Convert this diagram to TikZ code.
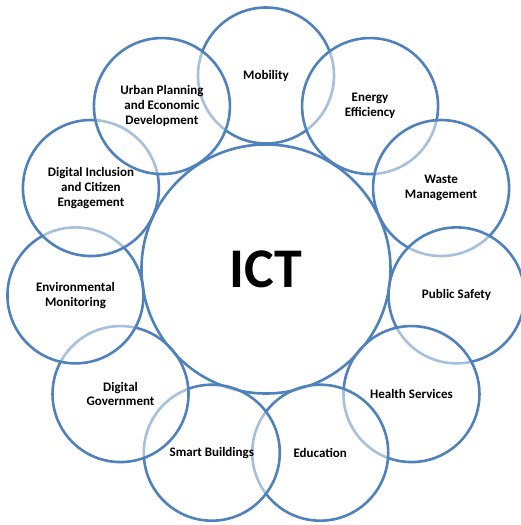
\documentclass[tikz,border=0pt]{standalone}
\usepackage{fontspec}
\setmainfont{Carlito}
\usepackage{tikz}
\definecolor{ringblue}{RGB}{79,129,189}

\begin{document}
\begin{tikzpicture}[x=1pt,y=1pt]
            \useasboundingbox (-266,-257) rectangle (255,268);
            \tikzstyle{every node}=[draw=ringblue, line width=2.6pt, shape=circle, fill=white, fill opacity=0.5, text opacity=1, align=center, inner sep=0pt, minimum size=136pt, font=\fontsize{13}{14.8}\selectfont\bfseries];
            \node[minimum size=249pt, fill opacity=1, font=\fontsize{56}{60}\selectfont\bfseries] (ict) at (0,-1) {ICT};
            % ring of application areas, clockwise from the top
            \node (mob) at (90:192.5) {Mobility};
            \node (energy) at (57.27:192.5) {Energy\\Efficiency};
            \node (waste) at (24.55:192.5) {Waste\\Management};
            \node (safety) at (-8.18:192.5) {Public Safety};
            \node (health) at (-40.91:192.5) {Health Services};
            \node (edu) at (-73.64:192.5) {Education};
            \node (build) at (-106.36:192.5) {Smart Buildings};
            \node (gov) at (-139.09:192.5) {Digital\\Government};
            \node (env) at (-171.82:192.5) {Environmental\\Monitoring};
            \node (incl) at (155.45:192.5) {Digital Inclusion\\and Citizen\\Engagement};
            \node (urban) at (122.73:192.5) {Urban Planning\\and Economic\\Development};
        \end{tikzpicture}
\end{document}
